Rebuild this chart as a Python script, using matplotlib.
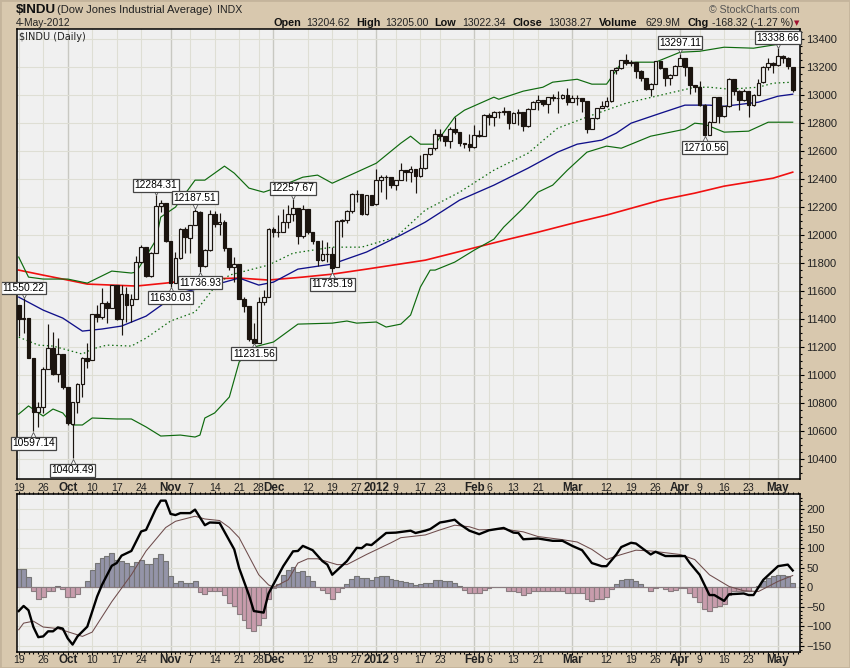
import matplotlib
matplotlib.use("Agg")
import matplotlib.pyplot as plt
from matplotlib.patches import Rectangle
from matplotlib.ticker import FixedLocator, MultipleLocator
from matplotlib.transforms import ScaledTranslation, blended_transform_factory

opens = [11500,11401,11408,11124,10733,10771,11044,11190,11010,11153,
10913,10650,10808,10939,11123,11104,11433,11417,11518,11478,
11644,11397,11577,11504,11541,11809,11913,11706,11869,12208,
12226,11955,11655,11836,12044,11977,12070,12162,11780,11893,
12153,12080,12096,11905,11770,11796,11547,11493,11257,11232,
11523,11556,12046,12020,12019,12097,12150,12196,11997,12184,
12021,11955,11823,11868,11866,11770,12103,12107,12169,12294,
12291,12151,12288,12221,12397,12413,12415,12360,12392,12462,
12450,12471,12422,12482,12578,12623,12720,12708,12675,12756,
12734,12660,12653,12633,12716,12705,12862,12845,12878,12883,
12890,12801,12874,12878,12781,12904,12949,12966,12938,12984,
12983,12981,13005,12952,12980,12977,12962,12759,12837,12907,
12922,12959,13178,13194,13253,13232,13239,13170,13125,13046,
13081,13241,13197,13126,13146,13212,13264,13199,13074,13060,
12929,12716,12806,12986,12850,12922,13115,13032,12965,13029,
12929,13002,13091,13205,13229,13214,13279,13268,13204]
highs = [11500,11550.22,11408,11125,10810,11060,11365,11310,11262,11153,
10913,10810,10945,11130,11227,11433,11500,11620,11530,11644,
11644,11640,11630,11580,11850,11930,11913,11880,12284.31,12250,
12231,11955,11880,12050,12060,12070,12187.51,12170,11900,12179,
12172,12155,12105,11900,11845,11796,11560,11493,11370,11560,
11610,12050,12060,12143,12190,12214,12257.67,12196,12214,12184,
12020,11955,11964,11952,11917,12110,12115,12180,12300,12326,
12291,12290,12290,12469,12428,12430,12415,12395,12516,12465,
12495,12475,12571,12580,12625,12762,12762,12710,12770,12845,
12740,12660,12720,12786,12750,12865,12870,12885,12890,12917,
12890,12880,12900,12880,12905,12955,13005,12966,12990,13010,
13030,13010,13048,13000,13000,12980,12962,12840,12910,12960,
12988,13180,13200,13255,13293,13250,13240,13180,13125,13085,
13245,13245,13195,13150,13215,13297.11,13265,13199,13075,13100,
12940,12815,12990,12987,12925,13120,13115,13040,13045,13030,
13010,13115,13210,13265,13235,13338.66,13285,13275,13205]
lows = [11280,11298,11125,10597.14,10631,10730,11040,11000,10950,10900,
10640,10404.49,10726,10846,11050,11104,11380,11400,11370,11478,
11390,11286,11380,11380,11541,11800,11700,11700,11869,12167,
11948,11630.03,11655,11829,11870,11870,12070,11736.93,11774,11888,
12060,12000,11890,11750,11667,11540,11453,11240,11231.56,11231,
11500,11556,11990,11990,12019,12050,12100,11940,11980,12010,
11940,11781,11815,11810,11735.19,11770,11988,12090,12159,12240,
12143,12147,12214,12214,12309,12260,12340,12320,12392,12390,
12380,12302,12417,12471,12571,12610,12670,12640,12620,12720,
12640,12620,12600,12626,12700,12705,12790,12780,12840,12860,
12760,12798,12790,12743,12774,12898,12893,12925,12874,12960,
12874,12975,12930,12948,12930,12880,12733,12755,12833,12905,
12917,12953,13150,13190,13215,13210,13125,13100,13040,12995,
13079,13190,13067,13070,13143,13215,13140,13010,13020,12920,
12710.56,12715,12805,12800,12841,12917,13000,12893,12960,12841,
12920,13000,13090,13180,13160,13210,13230,13190,13022.34]
closes = [11401,11408,11125,10733,10771,11043,11190,11010,11153,10913,
10655,10808,10939,11123,11103,11433,11416,11518,11478,11644,
11397,11577,11504,11541,11809,11913,11706,11869,12208,12231,
11955,11657,11836,12044,11983,12069,12170,11780,11893,12153,
12079,12096,11906,11770,11796,11547,11493,11257,11231,11523,
11556,12046,12020,12019,12097,12150,12196,11997,12184,12021,
11955,11823,11868,11866,11766,12103,12107,12169,12294,12291,
12151,12288,12218,12397,12418,12415,12360,12392,12462,12450,
12471,12422,12482,12578,12623,12720,12709,12675,12756,12734,
12660,12653,12633,12716,12705,12862,12845,12878,12883,12890,
12801,12874,12878,12781,12904,12950,12966,12938,12984,12983,
12981,13005,12952,12980,12978,12962,12759,12837,12907,12922,
12959,13178,13194,13253,13233,13239,13171,13125,13046,13081,
13241,13197,13126,13146,13212,13264,13199,13075,13060,12930,
12716,12806,12987,12850,12922,13115,13032,12965,13029,12928,
13002,13090,13205,13229,13214,13280,13269,13206,13038]

upper_idx = [0,2,5,10,14,19,23,24,28,29,32,36,38,42,44,47,50,53,58,61,64,69,73,78,80,82,85,89,91,97,98,103,107,109,114,117,120,123,126,130,135,139,144,150,155,158]
upper_val = [11843,11700,11686,11686,11657,11743,11729,11736,11964,12129,12200,12393,12393,12493,12443,12336,12307,12343,12414,12429,12371,12450,12514,12657,12707,12650,12650,12843,12893,12986,12971,13029,13057,13093,13114,13079,13079,13229,13236,13236,13307,13314,13343,13336,13364,13364]
lower_idx = [0,2,5,7,9,11,13,15,20,23,26,29,33,36,37,38,40,43,45,48,52,57,64,67,69,73,75,78,80,82,84,85,89,93,97,99,103,106,109,112,116,120,123,129,136,138,140,144,149,153,158]
lower_val = [10721,10779,10707,10757,10729,10643,10643,10693,10686,10686,10629,10564,10571,10557,10571,10693,10729,10843,11093,11200,11236,11364,11371,11386,11371,11379,11343,11364,11429,11629,11750,11750,11807,11893,11971,12057,12193,12307,12357,12464,12593,12636,12621,12707,12757,12800,12793,12736,12743,12807,12807]
sma20_idx = [0,4,7,13,15,18,23,26,31,36,40,43,51,56,64,70,77,83,90,97,104,110,117,124,131,138,141,145,151,154,158]
sma20_val = [11271,11214,11207,11150,11186,11214,11207,11264,11386,11450,11629,11714,11786,11871,11914,11914,11986,12179,12307,12464,12586,12764,12857,12943,13000,13057,13057,13043,13057,13086,13093]
sma50_idx = [0,5,9,13,17,21,26,30,33,37,42,45,49,52,57,64,71,78,83,90,97,104,110,114,119,122,125,131,136,141,144,151,155,158]
sma50_val = [11557,11464,11407,11314,11329,11350,11421,11521,11586,11621,11664,11693,11643,11664,11757,11793,11879,12000,12093,12250,12357,12479,12593,12650,12679,12729,12800,12871,12929,12929,12921,12950,12993,13007]
sma200_idx = [0,5,10,14,19,24,30,37,45,51,58,64,71,83,100,106,114,120,131,138,144,154,158]
sma200_val = [11750,11714,11679,11650,11643,11636,11657,11686,11693,11679,11700,11721,11757,11821,11971,12021,12093,12143,12250,12300,12350,12407,12450]

hist = [47,47,26,-10,-31,-24,-9,-9,3,-5,
-26,-26,-17,0,16,45,61,76,79,87,
71,68,62,54,64,71,60,60,75,84,
68,29,12,16,10,10,16,-11,-18,-9,
-9,-9,-21,-40,-47,-69,-85,-104,-113,-96,
-78,-31,-3,9,31,45,52,40,42,30,
16,0,-7,-14,-29,-13,-3,8,22,29,
23,23,19,26,29,29,22,19,16,14,
10,5,8,10,10,19,19,16,16,12,
2,-8,-14,-14,-14,-8,-3,0,0,0,
-9,-9,-12,-19,-16,-10,-9,-9,-9,-9,
-9,-9,-14,-14,-16,-16,-31,-34,-31,-29,
-26,-5,8,19,21,21,16,8,0,-10,
-3,0,-5,-10,-7,-3,-3,-16,-24,-37,
-55,-61,-50,-47,-42,-20,-9,-10,-10,-10,
0,3,16,23,28,32,32,28,11]
macd_idx = [0,1,2,3,4,5,6,7,8,9,10,11,12,14,16,17,19,20,21,23,25,26,28,29,30,31,32,33,35,36,38,39,41,44,45,47,48,50,51,54,56,57,58,60,62,63,64,67,69,70,71,72,75,77,80,81,83,84,86,87,89,90,92,94,96,99,101,102,103,106,109,111,113,115,117,119,120,122,123,125,126,129,130,132,136,137,139,141,142,144,145,148,149,150,152,155,157,158]
macd_val = [-61,-48,-59,-102,-128,-126,-113,-113,-103,-106,-131,-147,-126,-101,-24,6,55,62,81,93,143,147,201,222,222,188,185,190,190,199,159,166,165,97,49,-20,-61,-65,-16,54,92,93,106,95,67,58,32,67,101,100,110,108,139,140,145,139,145,149,166,168,173,162,145,136,146,152,140,139,123,125,119,119,106,95,62,54,54,84,103,114,112,84,91,80,80,62,32,-20,-20,-35,-18,-16,-20,-20,19,54,58,43]
signal_idx = [0,1,3,5,8,13,15,19,23,26,30,32,36,38,41,43,45,49,51,52,55,57,59,61,65,67,71,76,78,83,86,89,92,94,99,103,106,111,114,117,120,122,126,129,135,138,141,145,148,151,155,158]
signal_val = [-109,-92,-87,-102,-106,-126,-115,-37,32,93,153,169,182,175,171,153,127,32,6,0,19,62,73,73,58,58,84,114,127,134,147,159,155,147,149,142,130,122,116,97,71,80,95,93,84,71,32,2,-9,-11,15,30]

tick_idx = [0,5,10,15,20,25,31,35,40,45,49,52,59,64,69,73,77,82,86,93,96,101,106,113,120,125,130,135,139,144,149,155]
tick_labels = ['19','26','Oct','10','17','24','Nov','7','14','21','28','Dec','12','19','27','2012','9','17','23','Feb','6','13','21','Mar','12','19','26','Apr','9','16','23','May']
month_labels = ['Oct','Nov','Dec','2012','Feb','Mar','Apr','May']

callout_idx = [3,11,1,28,36,31,37,56,48,64,135,140,155]
callout_val = [10597.14,10404.49,11550.22,12284.31,12187.51,11630.03,11736.93,12257.67,11231.56,11735.19,13297.11,12710.56,13338.66]
callout_text = ['10597.14','10404.49','11550.22','12284.31','12187.51','11630.03','11736.93','12257.67','11231.56','11735.19','13297.11','12710.56','13338.66']
callout_dy = [-12,-12,10,10,11,-11,-11,11,-11,-12,11,-12,10]

W, H = 850, 668
BG = '#D8C8AE'
PANEL = '#F0F0F0'
GRID = '#DEDED4'
MGRID = '#C8C8C2'
INK = '#1B140F'
plt.rcParams['font.family'] = ['Liberation Sans', 'DejaVu Sans']

fig = plt.figure(figsize=(W/100, H/100), dpi=100, facecolor=BG)
fig.add_artist(Rectangle((0, 0), 1, 1, transform=fig.transFigure, fill=False, ec='#C4B49C', lw=2))

def axes_px(l, t, r, b):
    return fig.add_axes([l/W, 1-b/H, (r-l)/W, (b-t)/H], facecolor=PANEL)

ax = axes_px(16.5, 29.3, 800.3, 479)
ax2 = axes_px(16.5, 494, 800.3, 652)
XLIM = (-0.45, 159.55)

for a in (ax, ax2):
    a.set_xlim(*XLIM)
    a.set_axisbelow(True)
    for s in a.spines.values():
        s.set_linewidth(1.1); s.set_color('black')
    for t, lab in zip(tick_idx, tick_labels):
        a.axvline(t, color=MGRID if lab in month_labels else GRID, lw=1.0 if lab in month_labels else 0.8, zorder=0.5)
    a.xaxis.set_major_locator(FixedLocator(tick_idx))
    a.xaxis.set_minor_locator(MultipleLocator(1))
    a.yaxis.tick_right()

ax.set_ylim(10257, 13471)
ax.set_yticks(range(10400, 13401, 200))
ax.yaxis.set_minor_locator(MultipleLocator(50))
ax.grid(axis='y', color=GRID, lw=0.8, zorder=0.5)
ax.tick_params(axis='y', which='major', length=3, width=0.8, labelsize=8, pad=1.5, labelcolor='#222222')
ax.tick_params(axis='y', which='minor', length=1.5, width=0.8)
ax.tick_params(axis='x', which='both', bottom=False, labelbottom=False)

ax2.set_ylim(-166, 239)
ax2.set_yticks(range(-150, 201, 50))
ax2.yaxis.set_minor_locator(MultipleLocator(10))
ax2.grid(axis='y', color=GRID, lw=0.8, zorder=0.5)
ax2.tick_params(axis='y', which='major', length=3, width=0.8, labelsize=8, pad=1.5, labelcolor='#222222')
ax2.tick_params(axis='y', which='minor', length=1.5, width=0.8)
ax2.tick_params(axis='x', which='major', top=True, bottom=True, labeltop=False, labelbottom=False, length=2, width=0.8)
ax2.tick_params(axis='x', which='minor', top=True, bottom=True, length=1.5, width=0.8)

# date labels above and below the MACD panel, on one baseline each
xtrans = blended_transform_factory(ax2.transData, fig.transFigure)
for t, lab in zip(tick_idx, tick_labels):
    is_month = lab in month_labels
    for y_px in (491, 663):
        ax2.text(t, 1-y_px/H, lab, transform=xtrans, ha='center', va='baseline',
                 clip_on=False, color='#222222', fontsize=8.4 if is_month else 7.6,
                 fontweight='bold' if is_month else 'normal')

# overlays under candles
ax.plot(sma200_idx, sma200_val, color='#F01010', lw=1.2, zorder=2)
ax.plot(upper_idx, upper_val, color='#0E6A0E', lw=0.85, zorder=2)
ax.plot(lower_idx, lower_val, color='#0E6A0E', lw=0.85, zorder=2)
ax.plot(sma20_idx, sma20_val, color='#0E6A0E', lw=0.9, ls=(0, (1.2, 2.2)), zorder=2)
ax.plot(sma50_idx, sma50_val, color='#10108A', lw=0.95, zorder=2)

# candles
xs = list(range(len(closes)))
ax.vlines(xs, lows, highs, color=INK, lw=0.85, zorder=3)
for i, o, c in zip(xs, opens, closes):
    up = c >= o
    ax.bar(i, abs(c-o), bottom=min(o, c), width=0.76,
           facecolor=PANEL if up else INK, edgecolor=INK, lw=0.85, zorder=4)

# callouts
for i, v, s, dy in zip(callout_idx, callout_val, callout_text, callout_dy):
    sign = -1 if dy < 0 else 1
    shift = ScaledTranslation(0, sign*3.2/100, fig.dpi_scale_trans)
    ax.plot([i], [v], marker='^' if dy < 0 else 'v', ms=4.8, mfc='white', mec='#555555', mew=0.6, zorder=5,
            linestyle='none', transform=ax.transData + shift, clip_on=False)
    ax.annotate(s, xy=(i, v), xytext=(0, dy), textcoords='offset pixels', ha='center', va='center',
                fontsize=7.4, color='black', zorder=6, annotation_clip=False,
                bbox=dict(boxstyle='square,pad=0.14', fc='white', ec='#444444', lw=0.9))

fig.text(19/W, 1-36.5/H, '$INDU (Daily)', fontsize=7, va='center', ha='left', color='#222222', zorder=10,
         family='DejaVu Sans')

# MACD panel
pos = [max(h, 0) for h in hist]
neg = [min(h, 0) for h in hist]
ax2.bar(xs, pos, width=1.0, facecolor='#9494A8', edgecolor='#757575', lw=0.8, zorder=2)
ax2.bar(xs, neg, width=1.0, facecolor='#C89CAC', edgecolor='#8A7C80', lw=0.8, zorder=2)
ax2.plot(signal_idx, signal_val, color='#6E4C4C', lw=0.75, zorder=3)
ax2.plot(macd_idx, macd_val, color='black', lw=1.7, zorder=4)

# header
def hdr(x, y, s, **kw):
    fig.text(x/W, 1-y/H, s, va='center', ha='left', **kw)

hdr(16, 10, '$INDU', fontsize=9.6, fontweight='bold', color='#111111')
hdr(57, 10, '(Dow Jones Industrial Average)', fontsize=8, color='#222222')
hdr(217, 10, 'INDX', fontsize=7.6, color='#222222')
hdr(16, 23.5, '4-May-2012', fontsize=7.4, color='#222222')
row = [(274, 'Open', True), (306.7, '13204.62', False), (356.7, 'High', True), (385, '13205.00', False),
       (434.3, 'Low', True), (462.7, '13022.34', False), (512.7, 'Close', True), (548.3, '13038.27', False),
       (599, 'Volume', True), (645, '629.9M', False), (687, 'Chg', True), (711.7, '-168.32 (-1.27 %)', False)]
for x, s, b in row:
    hdr(x, 23.5, s, fontsize=7.8 if b else 7.5, fontweight='bold' if b else 'normal', color='#111111' if b else '#222222')
fig.text(796.7/W, 1-23.5/H, '\u25BC', fontsize=5, color='#A01030', ha='center', va='center', family='DejaVu Sans')
fig.text(800/W, 1-10/H, '\u00A9 StockCharts.com', fontsize=7.6, color='#555555', ha='right', va='center')

fig.savefig('out.png', dpi=100, facecolor=BG)
